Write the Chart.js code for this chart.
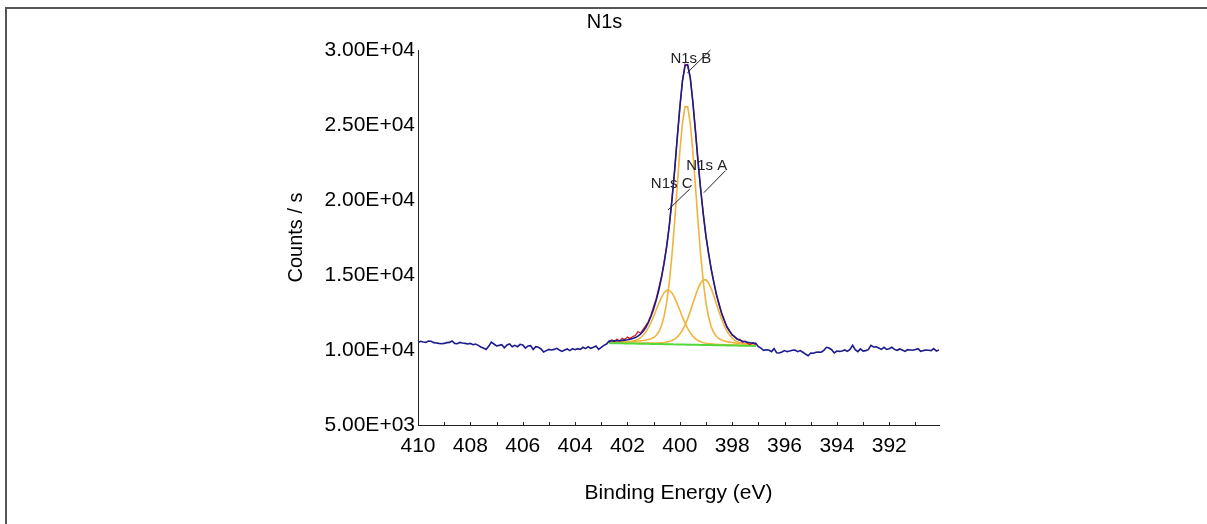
<!DOCTYPE html>
<html>
<head>
<meta charset="utf-8">
<title>N1s</title>
<script src="https://cdn.jsdelivr.net/npm/chart.js@4.4.1/dist/chart.umd.min.js"></script>
<style>
  html, body { margin: 0; padding: 0; background: #fff; }
  canvas { display: block; }
</style>
</head>
<body>
<canvas id="chart" width="1207" height="524"></canvas>
<script>
// channel grid of the spectrum (eV), spectrum is recorded in 0.1 eV steps
const step = 0.1;

// raw counts left of the fit region, 410.0 -> 402.8 eV
const leftStart = 410.0;
const leftCounts = [
  10490, 10580, 10530, 10510, 10600, 10580, 10490, 10470, 10440, 10420,
  10440, 10490, 10510, 10600, 10440, 10420, 10510, 10470, 10440, 10400,
  10440, 10350, 10400, 10310, 10200, 10130, 10040, 10240, 10530, 10400,
  10270, 10310, 10350, 10150, 10330, 10400, 10220, 10310, 10220, 10380,
  10330, 10130, 10270, 10290, 10040, 10220, 10180, 10070, 9870, 9960,
  10040, 10000, 10040, 10110, 10000, 9910, 10000, 10070, 9960, 10090,
  10020, 10090, 10040, 10180, 10090, 10220, 10110, 10180, 10270, 10040,
  10180, 10310, 10400
];

// fit region, 402.7 -> 397.1 eV
const regionStart = 402.7;
const background = [
  10460, 10456, 10453, 10450, 10446, 10443, 10440, 10436, 10433, 10429,
  10426, 10423, 10419, 10416, 10412, 10409, 10406, 10402, 10399, 10395,
  10392, 10389, 10385, 10382, 10378, 10375, 10372, 10368, 10365, 10361,
  10358, 10355, 10351, 10348, 10344, 10341, 10338, 10334, 10331, 10327,
  10324, 10321, 10317, 10314, 10310, 10307, 10304, 10300, 10297, 10293,
  10290, 10287, 10283, 10280, 10276, 10273, 10270
];
// component intensities above the background
const compA = [
  19, 21, 22, 23, 24, 26, 28, 29, 31, 34,
  36, 39, 42, 45, 49, 54, 59, 65, 70, 80,
  95, 115, 140, 185, 250, 345, 485, 690, 950, 1300,
  1730, 2220, 2750, 3280, 3770, 4140, 4340, 4340, 4140, 3770,
  3280, 2750, 2220, 1730, 1300, 950, 690, 485, 345, 250,
  185, 140, 115, 95, 80, 70, 65
];
const compB = [
  73, 78, 83, 90, 97, 105, 113, 123, 134, 147,
  160, 180, 200, 220, 250, 290, 350, 430, 580, 820,
  1220, 1850, 2800, 4160, 5950, 8110, 10500, 12840, 14750, 15860,
  15860, 14750, 12840, 10500, 8110, 5950, 4160, 2800, 1850, 1220,
  820, 580, 430, 350, 290, 250, 220, 200, 180, 160,
  147, 134, 123, 113, 105, 97, 90
];
const compC = [
  41, 45, 49, 54, 58, 65, 80, 95, 115, 150,
  205, 285, 400, 570, 790, 1080, 1430, 1840, 2280, 2720,
  3120, 3430, 3590, 3590, 3430, 3120, 2720, 2280, 1840, 1430,
  1080, 790, 570, 400, 285, 205, 150, 115, 95, 80,
  65, 58, 54, 49, 45, 41, 38, 35, 32, 30,
  28, 26, 24, 23, 21, 20, 19
];
const rawRegion = [
  10540, 10680, 10560, 10720, 10590, 10780, 10700, 10860, 10760, 10900,
  10960, 11230, 11120, 11380, 11620, 11900, 12340, 12900, 13420, 14150,
  14900, 15850, 16960, 18300, 20050, 21900, 24120, 26100, 27950, 29050,
  28960, 28200, 26480, 24600, 22450, 20700, 19050, 17520, 16500, 15350,
  14560, 13650, 13100, 12400, 12010, 11520, 11300, 10980, 10900, 10690,
  10700, 10510, 10600, 10430, 10380, 10500, 10350
];

// raw counts right of the fit region, 397.0 -> 390.1 eV
const rightStart = 397.0;
const rightCounts = [
  10220, 10130, 9980, 10020, 10000, 9890, 10090, 9820, 9800, 9870,
  9960, 9890, 9930, 9980, 10000, 9890, 9960, 9850, 9730, 9620,
  9800, 9780, 9850, 9870, 9850, 9980, 10180, 10130, 10020, 9800,
  9930, 9910, 9930, 10000, 9910, 10040, 10310, 10020, 9890, 10070,
  9930, 9960, 10020, 10310, 10200, 10220, 10130, 10040, 10180, 10040,
  10090, 10180, 10040, 9980, 10070, 10000, 9910, 10020, 10000, 9980,
  10040, 10090, 9910, 9960, 10000, 9980, 9960, 10090, 9930, 10000
];

const xTickLabels = [410, 408, 406, 404, 402, 400, 398, 396, 394, 392];
const yTickValues = [5000, 10000, 15000, 20000, 25000, 30000];

// peak labels: text position and leader line ends, in data units
const peakLabels = [
  { text: "N1s B", at: [399.58, 29400], line: [[399.71, 28490], [398.83, 30000]] },
  { text: "N1s A", at: [398.97, 22270], line: [[399.08, 20490], [398.26, 21950]] },
  { text: "N1s C", at: [400.31, 21070], line: [[400.45, 19330], [399.62, 20730]] },
];

const energyAt = (start, i) => +(start - i * step).toFixed(1);
const toPoints = (start, values) => values.map((v, i) => ({ x: energyAt(start, i), y: v }));

const envelope = background.map((b, i) => b + compA[i] + compB[i] + compC[i]);
const spectrum = [
  ...toPoints(leftStart, leftCounts),
  ...toPoints(regionStart, envelope),
  ...toPoints(rightStart, rightCounts),
];
const withBg = (comp) => toPoints(regionStart, comp.map((v, i) => v + background[i]));

// 3.00E+04 style labels
const sci = (v) => {
  const [m, e] = Number(v).toExponential(2).split("e");
  return m + "E" + e[0] + e.slice(1).padStart(2, "0");
};

const FONT = "Arial, 'Liberation Sans', sans-serif";

const framePlugin = {
  id: "frame",
  beforeDraw(chart) {
    const ctx = chart.ctx;
    ctx.save();
    ctx.fillStyle = "#fff";
    ctx.fillRect(0, 0, chart.width, chart.height);
    ctx.strokeStyle = "#555";
    ctx.lineWidth = 2;
    ctx.beginPath();
    ctx.moveTo(6, chart.height);
    ctx.lineTo(6, 8);
    ctx.lineTo(chart.width, 8);
    ctx.stroke();
    ctx.restore();
  },
};

const marksPlugin = {
  id: "marks",
  afterDraw(chart) {
    const ctx = chart.ctx;
    const xs = chart.scales.x;
    const ys = chart.scales.y;
    ctx.save();
    // small inward tick marks every 1 eV
    ctx.strokeStyle = "#222";
    ctx.lineWidth = 1;
    ctx.beginPath();
    for (let e = Math.ceil(xs.min); e <= xs.max; e++) {
      const px = Math.round(xs.getPixelForValue(e)) + 0.5;
      ctx.moveTo(px, ys.bottom);
      ctx.lineTo(px, ys.bottom - 3);
    }
    ctx.stroke();
    // peak labels with leader lines
    ctx.font = "15px " + FONT;
    ctx.fillStyle = "#222";
    ctx.textAlign = "center";
    ctx.textBaseline = "middle";
    peakLabels.forEach((lab) => {
      ctx.beginPath();
      ctx.moveTo(xs.getPixelForValue(lab.line[0][0]), ys.getPixelForValue(lab.line[0][1]));
      ctx.lineTo(xs.getPixelForValue(lab.line[1][0]), ys.getPixelForValue(lab.line[1][1]));
      ctx.stroke();
      ctx.fillText(lab.text, xs.getPixelForValue(lab.at[0]), ys.getPixelForValue(lab.at[1]));
    });
    ctx.restore();
  },
};

const ctx = document.getElementById("chart").getContext("2d");

new Chart(ctx, {
  type: "line",
  data: {
    datasets: [
      { label: "Spectrum", data: spectrum, borderColor: "#1c1c8c", borderWidth: 1.6, order: 1 },
      { label: "Raw", data: toPoints(regionStart, rawRegion), borderColor: "#d0202c", borderWidth: 1.3, order: 2 },
      { label: "Background", data: toPoints(regionStart, background), borderColor: "#52d83a", borderWidth: 2, order: 3 },
      { label: "N1s A", data: withBg(compA), borderColor: "#f0b43c", borderWidth: 1.6, order: 4 },
      { label: "N1s B", data: withBg(compB), borderColor: "#f0b43c", borderWidth: 1.6, order: 5 },
      { label: "N1s C", data: withBg(compC), borderColor: "#f0b43c", borderWidth: 1.6, order: 6 },
    ],
  },
  options: {
    responsive: false,
    animation: false,
    elements: {
      point: { radius: 0 },
      line: { tension: 0, fill: false },
    },
    layout: { padding: { left: 270, right: 268, top: 0, bottom: 14 } },
    plugins: {
      legend: { display: false },
      tooltip: { enabled: false },
      title: {
        display: true,
        text: "N1s",
        color: "#000",
        font: { family: FONT, size: 20, weight: "normal" },
        padding: { top: 10, bottom: 16 },
      },
    },
    scales: {
      x: {
        type: "linear",
        reverse: true,
        min: 390.1,
        max: 410,
        afterBuildTicks: (scale) => { scale.ticks = xTickLabels.map((v) => ({ value: v })); },
        afterFit: (scale) => { scale.height = 85; },
        grid: { display: false, drawTicks: false },
        border: { display: true, color: "#222", width: 1 },
        ticks: {
          padding: 9,
          color: "#000",
          autoSkip: false,
          maxRotation: 0,
          font: { family: FONT, size: 21 },
          callback: (v) => String(v),
        },
        title: {
          display: true,
          text: "Binding Energy (eV)",
          color: "#000",
          font: { family: FONT, size: 21 },
          padding: { top: 4, bottom: 4 },
        },
      },
      y: {
        min: 5000,
        max: 30000,
        afterBuildTicks: (scale) => { scale.ticks = yTickValues.map((v) => ({ value: v })); },
        afterFit: (scale) => { scale.width = 148; },
        grid: { display: false, drawTicks: false },
        border: { display: true, color: "#222", width: 1 },
        ticks: {
          padding: 3,
          color: "#000",
          font: { family: FONT, size: 21 },
          callback: (v) => sci(v),
        },
        title: {
          display: true,
          text: "Counts / s",
          color: "#000",
          font: { family: FONT, size: 20 },
          padding: { top: 14, bottom: 4 },
        },
      },
    },
  },
  plugins: [framePlugin, marksPlugin],
});
</script>
</body>
</html>
